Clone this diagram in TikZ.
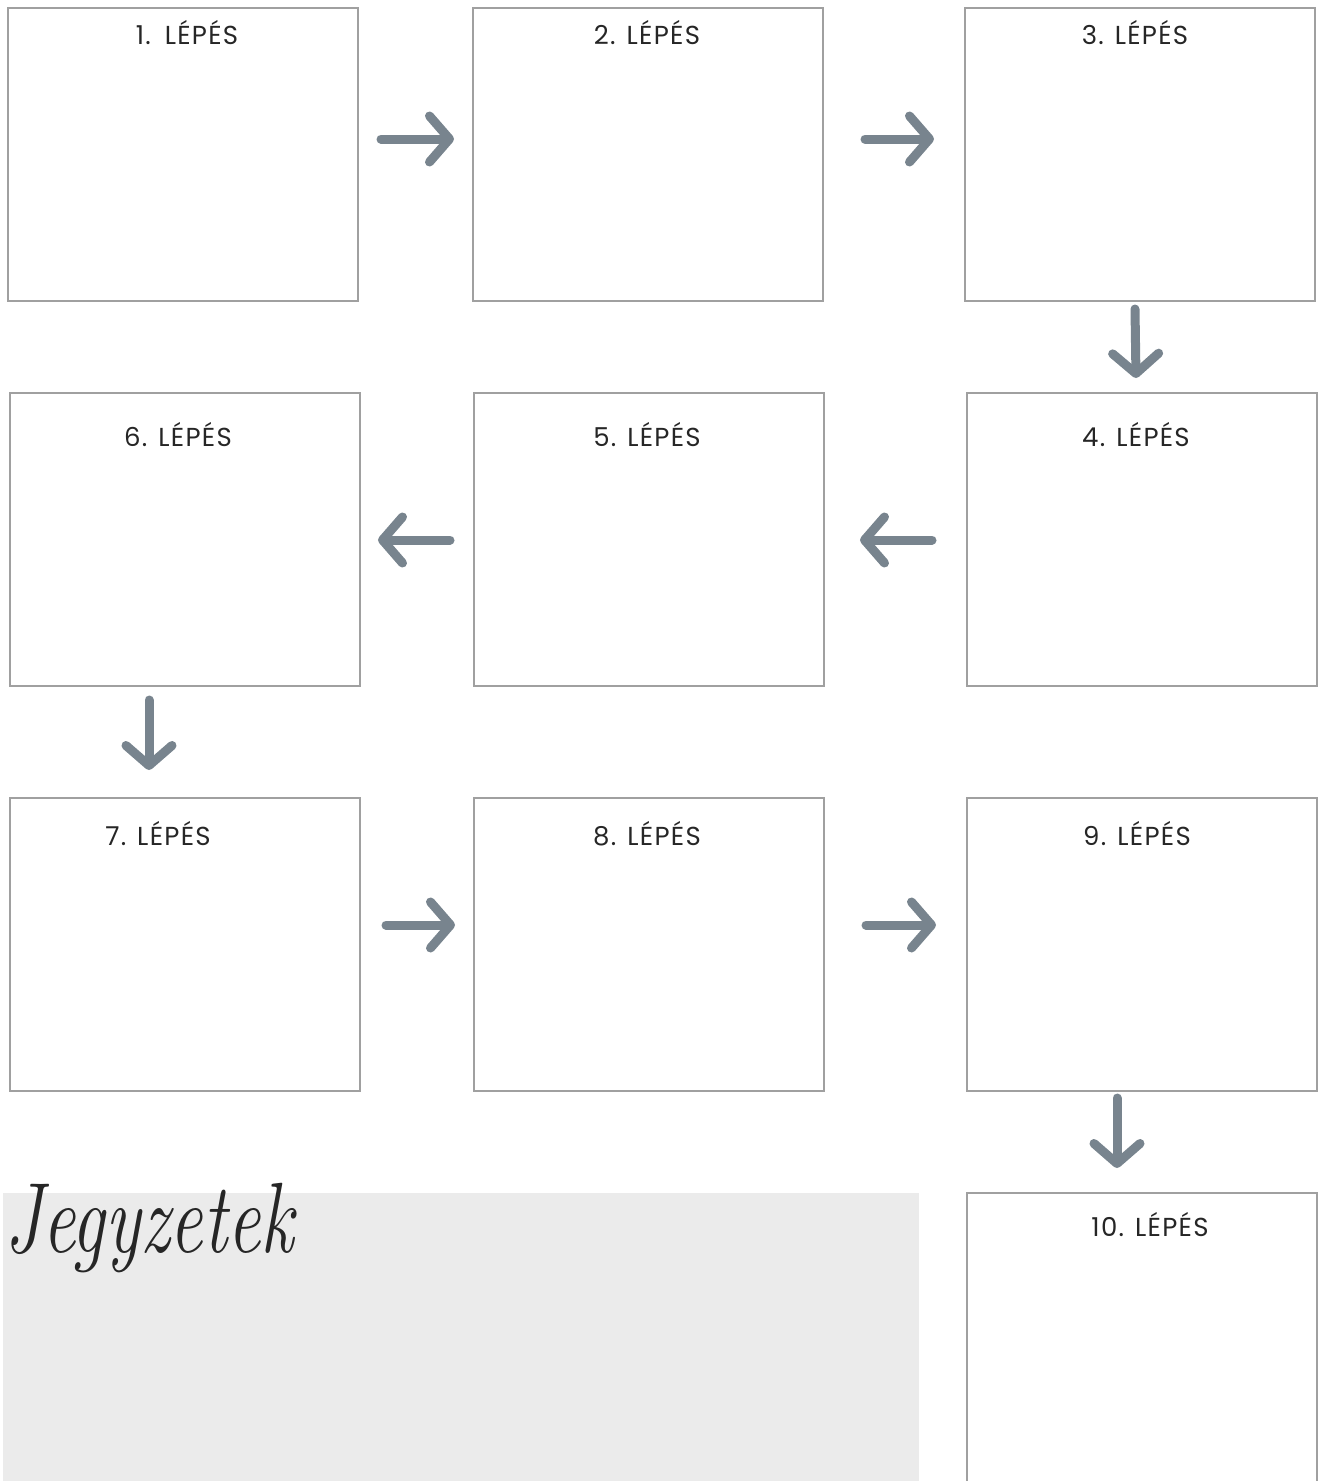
\documentclass[tikz,border=0pt]{standalone}
\usepackage{fontspec}
\setmainfont{Poppins}[LetterSpace=5]
\newfontfamily\notefont{Latin Modern Roman}[Style=Italic]
\usetikzlibrary{arrows.meta}
\definecolor{arrowc}{HTML}{78848E}
\definecolor{boxc}{HTML}{A0A0A0}
\definecolor{txtc}{HTML}{262626}
\definecolor{notec}{HTML}{EBEBEB}
\begin{document}
\begin{tikzpicture}[x=1pt,y=-1pt,
  stepbox/.style={draw=boxc,line width=1.3pt,minimum width=350pt,minimum height=293pt,inner sep=0pt,outer sep=0pt},
  steplabel/.style={text=txtc,font=\fontsize{26}{30}\selectfont,anchor=base},
  flow/.style={draw=arrowc,line width=9pt,line cap=round,-{Straight Barb[length=20pt,width=46pt,round]}}]
\useasboundingbox (0,0) rectangle (1320,1481);
% notes area
\fill[notec] (3,1193) rectangle (919,1481);
\node[anchor=base west,inner sep=0pt,text=txtc,font=\fontsize{74}{74}\selectfont] (notes) at (4,1252) {\scalebox{1}[1.35]{\notefont\itshape Jegyzetek}};
% boxes
\node[stepbox] (b1) at (183,154.5) {};
\node[stepbox] (b2) at (648,154.5) {};
\node[stepbox] (b3) at (1140,154.5) {};
\node[stepbox] (b4) at (1142,539.5) {};
\node[stepbox] (b5) at (649,539.5) {};
\node[stepbox] (b6) at (185,539.5) {};
\node[stepbox] (b7) at (185,944.5) {};
\node[stepbox] (b8) at (649,944.5) {};
\node[stepbox] (b9) at (1142,944.5) {};
\draw[draw=boxc,line width=1.3pt] (967,1500) |- (1317,1193) -- (1317,1500);
\coordinate (b10) at (1142,1193);
% labels
\node[steplabel] (l1) at (187,44) {1.\hspace{3pt} LÉPÉS};
\node[steplabel] (l2) at (647,44) {2. LÉPÉS};
\node[steplabel] (l3) at (1135,44) {3. LÉPÉS};
\node[steplabel] (l4) at (1136,446) {4. LÉPÉS};
\node[steplabel] (l5) at (647,446) {5. LÉPÉS};
\node[steplabel] (l6) at (178,446) {6. LÉPÉS};
\node[steplabel] (l7) at (158,845) {7. LÉPÉS};
\node[steplabel] (l8) at (647,845) {8. LÉPÉS};
\node[steplabel] (l9) at (1137,845) {9. LÉPÉS};
\node[steplabel] (l10) at (1150,1236) {10. LÉPÉS};
% arrows
\draw[flow] ([shift={(23,-15.5)}]b1.east) -- ([shift={(-19,-15.5)}]b2.west);
\draw[flow] ([shift={(42,-15.5)}]b2.east) -- ([shift={(-31,-15.5)}]b3.west);
\draw[flow] ([shift={(-5,8)}]b3.south) -- ([shift={(-6,-15)}]b4.north);
\draw[flow] ([shift={(-35,0.5)}]b4.west) -- ([shift={(36,0.5)}]b5.east);
\draw[flow] ([shift={(-24,0.5)}]b5.west) -- ([shift={(18,0.5)}]b6.east);
\draw[flow] ([shift={(-36,14)}]b6.south) -- ([shift={(-36,-28)}]b7.north);
\draw[flow] ([shift={(26,-19.5)}]b7.east) -- ([shift={(-19,-19.5)}]b8.west);
\draw[flow] ([shift={(42,-19.5)}]b8.east) -- ([shift={(-31,-19.5)}]b9.west);
\draw[flow] ([shift={(-25,7)}]b9.south) -- ([shift={(-25,-25)}]b10);
\end{tikzpicture}
\end{document}
